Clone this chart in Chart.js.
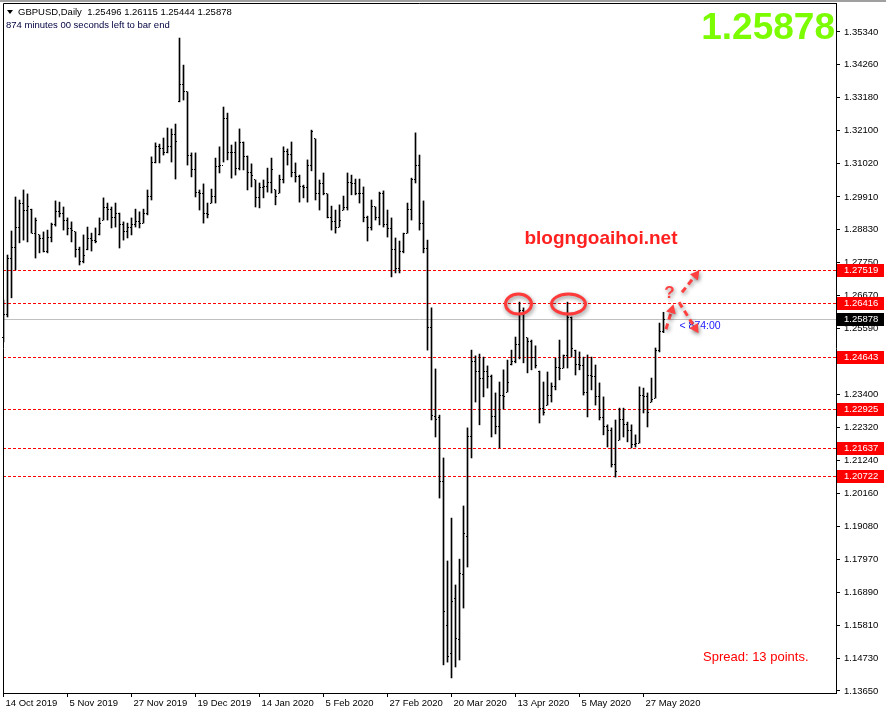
<!DOCTYPE html>
<html>
<head>
<meta charset="utf-8">
<script src="https://cdn.jsdelivr.net/npm/chart.js@4.4.1/dist/chart.umd.min.js"></script>
<style>
html, body { margin: 0; padding: 0; background: #fff; }
#wrap { width: 886px; height: 715px; }
</style>
</head>
<body>
<div id="wrap"><canvas id="chart" width="886" height="715"></canvas></div>
<script>
// GBPUSD daily bars, 14 Oct 2019 .. 4 Jun 2020
const opens = [
1.2530,1.2603,1.2787,1.2826,1.2892,1.2971,1.2948,1.2951,1.2872,1.2866,
1.2853,1.2813,1.2859,1.2899,1.2942,1.2938,1.2915,1.2886,1.2876,1.2817,
1.2777,1.2817,1.2853,1.2849,1.2866,1.2915,1.2955,1.2951,1.2925,1.2938,
1.2899,1.2876,1.2889,1.2899,1.2909,1.2905,1.2938,1.2994,1.3106,1.3156,
1.3152,1.3136,1.3156,1.3195,1.3304,1.3360,1.3337,1.3129,1.3080,1.3007,
1.3004,1.2938,1.2971,1.2994,1.3090,1.3093,1.3248,1.3136,1.3136,1.3086,
1.3169,1.3123,1.3070,1.3047,1.2988,1.3021,1.3024,1.3037,1.3014,1.3004,
1.3047,1.3139,1.3130,1.3073,1.3060,1.3027,1.3021,1.3093,1.3182,1.3001,
1.3034,1.3001,1.2925,1.2909,1.2892,1.2948,1.2955,1.3040,1.3036,1.3004,
1.3001,1.2922,1.2889,1.2958,1.2925,1.3004,1.2899,1.2886,1.2817,1.2754,
1.2810,1.2872,1.2951,1.3047,1.3096,1.2905,1.2820,1.2560,1.2270,1.2264,
1.2053,1.1582,1.1487,1.1668,1.1533,1.1750,1.1875,1.2201,1.2451,1.2418,
1.2395,1.2415,1.2399,1.2270,1.2234,1.2339,1.2349,1.2438,1.2448,1.2504,
1.2616,1.2527,1.2514,1.2461,1.2418,1.2296,1.2306,1.2336,1.2366,1.2431,
1.2428,1.2468,1.2593,1.2487,1.2438,1.2435,1.2346,1.2405,1.2399,1.2333,
1.2264,1.2234,1.2224,1.2109,1.2191,1.2257,1.2241,1.2221,1.2175,1.2181,
1.2336,1.2333,1.2316,1.2329,1.2487,1.25496
];
const highs = [
1.2652,1.2800,1.2879,1.2991,1.2981,1.3014,1.3001,1.2951,1.2922,1.2866,
1.2876,1.2882,1.2905,1.2978,1.2974,1.2958,1.2922,1.2909,1.2876,1.2826,
1.2866,1.2892,1.2872,1.2889,1.2922,1.2988,1.2971,1.2958,1.2971,1.2938,
1.2909,1.2905,1.2922,1.2951,1.2942,1.2951,1.3014,1.3123,1.3169,1.3165,
1.3185,1.3218,1.3215,1.3231,1.3514,1.3425,1.3337,1.3136,1.3136,1.3014,
1.3034,1.2971,1.3017,1.3119,1.3156,1.3287,1.3267,1.3162,1.3172,1.3215,
1.3172,1.3126,1.3100,1.3047,1.3037,1.3047,1.3086,1.3119,1.3014,1.3063,
1.3156,1.3149,1.3172,1.3103,1.3063,1.3030,1.3113,1.3211,1.3182,1.3047,
1.3070,1.3001,1.2961,1.2948,1.2965,1.2994,1.3070,1.3063,1.3050,1.3050,
1.3024,1.2928,1.2981,1.2958,1.3007,1.3011,1.2948,1.2922,1.2856,1.2846,
1.2872,1.2971,1.3053,1.3202,1.3129,1.2978,1.2849,1.2626,1.2425,1.2273,
1.2132,1.1793,1.1934,1.1714,1.1799,1.1974,1.2231,1.2487,1.2468,1.2474,
1.2464,1.2435,1.2405,1.2346,1.2382,1.2422,1.2454,1.2487,1.2530,1.2645,
1.2626,1.2527,1.2520,1.2501,1.2418,1.2382,1.2415,1.2379,1.2461,1.2520,
1.2471,1.2645,1.2596,1.2487,1.2481,1.2464,1.2471,1.2464,1.2438,1.2379,
1.2333,1.2241,1.2231,1.2257,1.2296,1.2296,1.2250,1.2241,1.2208,1.2366,
1.2362,1.2346,1.2395,1.2494,1.2576,1.26115
];
const lows = [
1.2514,1.2596,1.2659,1.2751,1.2840,1.2849,1.2843,1.2872,1.2790,1.2807,
1.2810,1.2807,1.2843,1.2895,1.2925,1.2882,1.2866,1.2843,1.2793,1.2767,
1.2774,1.2817,1.2813,1.2840,1.2866,1.2915,1.2915,1.2889,1.2892,1.2823,
1.2849,1.2856,1.2866,1.2892,1.2889,1.2905,1.2932,1.2981,1.3103,1.3103,
1.3129,1.3136,1.3106,1.3050,1.3304,1.3310,1.3096,1.3057,1.2991,1.2948,
1.2905,1.2922,1.2971,1.2971,1.3070,1.3106,1.3113,1.3053,1.3063,1.3080,
1.3080,1.3014,1.3024,1.2958,1.2955,1.2988,1.3007,1.3004,1.2965,1.3004,
1.3037,1.3096,1.3057,1.3040,1.2974,1.2988,1.2974,1.3077,1.2981,1.2948,
1.2998,1.2922,1.2882,1.2872,1.2892,1.2948,1.2948,1.2998,1.2998,1.2971,
1.2909,1.2846,1.2882,1.2915,1.2899,1.2892,1.2859,1.2728,1.2741,1.2741,
1.2807,1.2872,1.2915,1.3037,1.2882,1.2807,1.2487,1.2257,1.2201,1.2000,
1.1451,1.1460,1.1408,1.1444,1.1467,1.1638,1.1773,1.2132,1.2316,1.2241,
1.2333,1.2362,1.2201,1.2211,1.2165,1.2293,1.2349,1.2438,1.2445,1.2458,
1.2445,1.2412,1.2422,1.2428,1.2247,1.2273,1.2306,1.2316,1.2356,1.2389,
1.2428,1.2428,1.2464,1.2405,1.2422,1.2339,1.2267,1.2356,1.2306,1.2257,
1.2208,1.2168,1.2102,1.2069,1.2191,1.2201,1.2185,1.2165,1.2168,1.2181,
1.2280,1.2234,1.2316,1.2329,1.2481,1.25444
];
const closes = [
1.2603,1.2787,1.2826,1.2892,1.2971,1.2948,1.2958,1.2872,1.2912,1.2853,
1.2813,1.2859,1.2899,1.2942,1.2938,1.2915,1.2886,1.2882,1.2817,1.2777,
1.2797,1.2853,1.2849,1.2845,1.2905,1.2955,1.2951,1.2925,1.2938,1.2899,
1.2876,1.2889,1.2899,1.2909,1.2905,1.2938,1.2994,1.3106,1.3156,1.3152,
1.3136,1.3156,1.3195,1.3175,1.3360,1.3337,1.3129,1.3080,1.3007,1.3004,
1.2938,1.2932,1.2994,1.3090,1.3093,1.3248,1.3136,1.3136,1.3086,1.3169,
1.3123,1.3070,1.3063,1.2988,1.3021,1.3024,1.3037,1.3080,1.2994,1.3047,
1.3139,1.3130,1.3073,1.3060,1.3027,1.3021,1.3093,1.3205,1.3001,1.3034,
1.3001,1.2925,1.2909,1.2892,1.2915,1.2955,1.3040,1.3036,1.3004,1.3001,
1.2922,1.2889,1.2958,1.2925,1.3004,1.2899,1.2886,1.2817,1.2754,1.2810,
1.2872,1.2951,1.3047,1.3096,1.2905,1.2823,1.2560,1.2273,1.2260,1.2053,
1.1625,1.1480,1.1661,1.1539,1.1753,1.1882,1.2201,1.2451,1.2418,1.2395,
1.2415,1.2399,1.2270,1.2234,1.2339,1.2333,1.2379,1.2448,1.2504,1.2616,
1.2609,1.2514,1.2461,1.2435,1.2296,1.2283,1.2336,1.2366,1.2431,1.2425,
1.2468,1.2593,1.2491,1.2438,1.2435,1.2346,1.2405,1.2399,1.2333,1.2264,
1.2234,1.2224,1.2109,1.2086,1.2257,1.2241,1.2221,1.2175,1.2181,1.2336,
1.2333,1.2280,1.2323,1.2487,1.2547,1.25878
];

const xTickIndex = [0, 16, 32, 48, 64, 80, 96, 112, 128, 144, 160];
const xTickLabels = ['14 Oct 2019', '5 Nov 2019', '27 Nov 2019', '19 Dec 2019', '14 Jan 2020',
  '5 Feb 2020', '27 Feb 2020', '20 Mar 2020', '13 Apr 2020', '5 May 2020', '27 May 2020'];
const yTickValues = [1.35340, 1.34260, 1.33180, 1.32100, 1.31020, 1.29910, 1.28830, 1.27750,
  1.26670, 1.25590, 1.24510, 1.23400, 1.22320, 1.21240, 1.20160, 1.19080, 1.17970, 1.16890,
  1.15810, 1.14730, 1.13650];
const levels = [1.27519, 1.26416, 1.24643, 1.22925, 1.21637, 1.20722];
const lastPrice = 1.25878;
const topIdx = [129, 141];   // the two circled highs

const FONT = 'Tahoma, "Liberation Sans", Arial, sans-serif';

function arrow(ctx, x1, y1, x2, y2) {
  const a = Math.atan2(y2 - y1, x2 - x1);
  ctx.beginPath();
  ctx.setLineDash([6, 4]);
  ctx.moveTo(x1, y1);
  ctx.lineTo(x2 - 5 * Math.cos(a), y2 - 5 * Math.sin(a));
  ctx.stroke();
  ctx.setLineDash([]);
  ctx.beginPath();
  ctx.moveTo(x2, y2);
  ctx.lineTo(x2 - 9 * Math.cos(a) + 5 * Math.sin(a), y2 - 9 * Math.sin(a) - 5 * Math.cos(a));
  ctx.lineTo(x2 - 9 * Math.cos(a) - 5 * Math.sin(a), y2 - 9 * Math.sin(a) + 5 * Math.cos(a));
  ctx.closePath();
  ctx.fill();
}

const mt4 = {
  id: 'mt4',
  beforeDraw(chart) {
    const ctx = chart.ctx;
    ctx.save();
    ctx.fillStyle = '#fff';
    ctx.fillRect(0, 0, chart.width, chart.height);
    ctx.fillStyle = '#a0a0a0';
    ctx.fillRect(0, 0, chart.width, 2);
    ctx.restore();
  },
  beforeDatasetsDraw(chart) {
    const {ctx, chartArea: a, scales: {y}} = chart;
    ctx.save();
    // current price line
    let py = Math.round(y.getPixelForValue(lastPrice)) + 0.5;
    ctx.strokeStyle = '#c0c0c0';
    ctx.lineWidth = 1;
    ctx.beginPath(); ctx.moveTo(a.left, py); ctx.lineTo(a.right, py); ctx.stroke();
    // support / resistance levels
    ctx.strokeStyle = '#ff0000';
    ctx.setLineDash([3, 2]);
    levels.forEach(v => {
      const ly = Math.round(y.getPixelForValue(v)) + 0.5;
      ctx.beginPath(); ctx.moveTo(a.left, ly); ctx.lineTo(a.right, ly); ctx.stroke();
    });
    ctx.restore();
  },
  afterDatasetsDraw(chart) {
    const {ctx, scales: {x, y}} = chart;
    ctx.save();
    ctx.fillStyle = '#000';
    for (let i = 0; i < opens.length; i++) {
      const px = Math.round(x.getPixelForValue(i) - 0.5);
      ctx.fillRect(px - 1, Math.round(y.getPixelForValue(opens[i]) - 0.5), 1, 1);
      ctx.fillRect(px + 1, Math.round(y.getPixelForValue(closes[i]) - 0.5), 1, 1);
    }
    ctx.restore();
  },
  afterDraw(chart) {
    const {ctx, chartArea: a, scales: {x, y}} = chart;
    ctx.save();
    // frame
    ctx.strokeStyle = '#000';
    ctx.lineWidth = 1;
    ctx.beginPath();
    ctx.moveTo(a.left + 0.5, a.bottom); ctx.lineTo(a.left + 0.5, a.top + 0.5); ctx.lineTo(a.right, a.top + 0.5);
    ctx.stroke();

    // price labels on the axis
    ctx.font = '9.5px ' + FONT;
    ctx.textBaseline = 'middle';
    ctx.textAlign = 'left';
    const tag = (v, bg) => {
      const ty = Math.round(y.getPixelForValue(v));
      ctx.fillStyle = bg;
      ctx.fillRect(a.right + 1, ty - 6, 47, 13);
      ctx.fillStyle = '#fff';
      ctx.fillText(v.toFixed(5), a.right + 8, ty + 0.5);
    };
    levels.forEach(v => tag(v, '#ff0000'));
    tag(lastPrice, '#000');

    // header
    ctx.fillStyle = '#000';
    ctx.textBaseline = 'middle';
    ctx.beginPath(); ctx.moveTo(7, 10); ctx.lineTo(13, 10); ctx.lineTo(10, 14); ctx.closePath(); ctx.fill();
    ctx.fillText('GBPUSD,Daily  ' + opens[165].toFixed(5) + ' ' + highs[165].toFixed(5) + ' ' +
      lows[165].toFixed(5) + ' ' + closes[165].toFixed(5), 18, 12);
    ctx.fillStyle = '#000040';
    ctx.fillText('874 minutes 00 seconds left to bar end', 6, 25);

    // big price
    ctx.fillStyle = '#7cfc00';
    ctx.font = 'bold 37px ' + FONT;
    ctx.textAlign = 'right';
    ctx.fillText(lastPrice.toFixed(5), 835, 29);

    // watermark
    ctx.fillStyle = '#ff2020';
    ctx.font = 'bold 19px ' + FONT;
    ctx.textAlign = 'center';
    ctx.fillText('blogngoaihoi.net', 601, 239);

    // spread
    ctx.font = '13px ' + FONT;
    ctx.textAlign = 'left';
    ctx.fillStyle = '#ff0000';
    ctx.fillText('Spread: 13 points.', 703, 657);

    // countdown next to the last bar
    const lx = x.getPixelForValue(165);
    const ly = y.getPixelForValue(highs[165]);
    ctx.fillStyle = '#2020ff';
    ctx.font = '10.5px ' + FONT;
    ctx.fillText('< 874:00', lx + 16, Math.round(y.getPixelForValue(lastPrice)) + 7);

    // circled double top
    ctx.shadowColor = 'rgba(0,0,0,0.45)';
    ctx.shadowBlur = 4;
    ctx.shadowOffsetX = 1;
    ctx.shadowOffsetY = 2;
    ctx.strokeStyle = '#ff3a3a';
    ctx.lineWidth = 3;
    ctx.beginPath();
    ctx.ellipse(x.getPixelForValue(topIdx[0]) - 1, y.getPixelForValue(highs[topIdx[0]]) + 2, 13, 10, 0, 0, Math.PI * 2);
    ctx.stroke();
    ctx.beginPath();
    ctx.ellipse(x.getPixelForValue(topIdx[1]) + 1, y.getPixelForValue(highs[topIdx[1]]) + 2, 17, 10, 0, 0, Math.PI * 2);
    ctx.stroke();

    // arrows and question mark
    ctx.strokeStyle = '#ff4040';
    ctx.fillStyle = '#ff4040';
    ctx.lineWidth = 3;
    arrow(ctx, lx + 2.5, ly + 17, lx + 10, ly - 8);
    arrow(ctx, lx + 18.5, ly - 20, lx + 36, ly - 42);
    arrow(ctx, lx + 15.5, ly - 10, lx + 35, ly + 21);
    ctx.font = 'bold 17px ' + FONT;
    ctx.textAlign = 'center';
    ctx.fillText('?', lx + 6, ly - 19);
    ctx.restore();
  }
};

const bars = opens.map((o, i) => ({x: i, y: [lows[i], highs[i]]}));

const ctx = document.getElementById('chart').getContext('2d');
const myChart = new Chart(ctx, {
  type: 'bar',
  data: {
    datasets: [{
      data: bars,
      backgroundColor: '#000',
      borderWidth: 0,
      barThickness: 1,
      grouped: false
    }]
  },
  options: {
    responsive: false,
    animation: false,
    events: [],
    layout: {padding: {left: 3, top: 3, right: 0, bottom: 0}},
    plugins: {legend: {display: false}, tooltip: {enabled: false}},
    scales: {
      x: {
        type: 'linear',
        min: -0.125,
        max: 208.125,
        offset: false,
        afterBuildTicks: s => { s.ticks = xTickIndex.map(v => ({value: v})); },
        afterFit: s => { s.height = 22; s.paddingLeft = 0; s.paddingRight = 0; },
        grid: {drawOnChartArea: false, offset: false, tickLength: 4, color: '#000'},
        border: {color: '#000'},
        ticks: {
          autoSkip: false, maxRotation: 0, align: 'start', padding: 1, labelOffset: 2,
          color: '#000', font: {family: FONT, size: 9.5},
          callback: v => xTickLabels[xTickIndex.indexOf(v)]
        }
      },
      y: {
        position: 'right',
        min: 1.13584,
        max: 1.36294,
        afterBuildTicks: s => { s.ticks = yTickValues.map(v => ({value: v})); },
        afterFit: s => { s.width = 50; s.paddingTop = 0; s.paddingBottom = 0; },
        grid: {drawOnChartArea: false, tickLength: 4, color: '#000'},
        border: {color: '#000'},
        ticks: {
          padding: 4, color: '#000', font: {family: FONT, size: 9.5},
          callback: v => v.toFixed(5)
        }
      }
    }
  },
  plugins: [mt4]
});
</script>
</body>
</html>
